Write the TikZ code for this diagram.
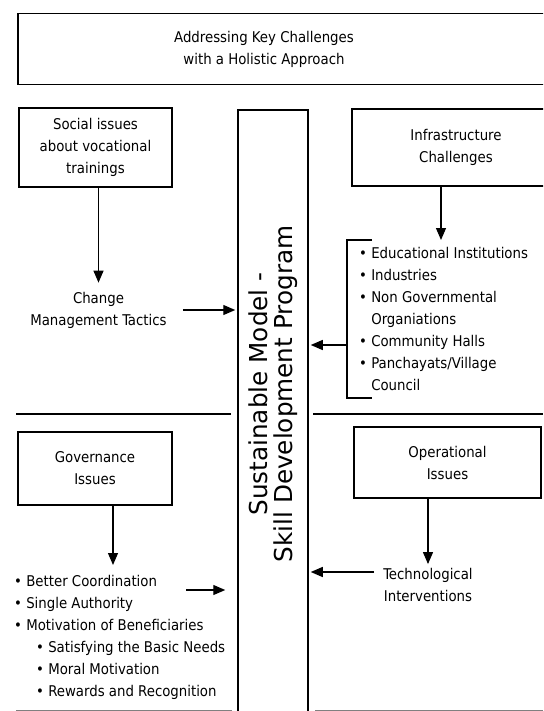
\documentclass[tikz,border=0pt]{standalone}
\usepackage{fontspec}
\setmainfont{DejaVu Sans Condensed}
\newfontfamily\widefont{DejaVu Sans}
\usetikzlibrary{arrows.meta}

\begin{document}
\begin{tikzpicture}[x=1pt,y=-1pt,
		box/.style={draw,line width=1.5pt,inner sep=0pt},
		txt/.style={align=center,inner sep=0pt,font=\fontsize{14.8}{22}\selectfont},
		lst/.style={align=left,inner sep=0pt,anchor=north west,font=\fontsize{14.8}{22}\selectfont},
		arr/.style={line width=1.2pt,-{Triangle[length=12pt,width=10pt]}}]
		\useasboundingbox (0,0) rectangle (543,711);
		\clip (0,0) rectangle (543,711);
		
		% title and the central box
		\node[box,minimum width=560,minimum height=71] (titlebox) at (298,49) {};
		\node[txt] (title) at (264,49) {Addressing Key Challenges\\with a Holistic Approach};
		\node[box,minimum width=70,minimum height=620] (model) at (273,420) {};
		\node[rotate=90,align=center,inner sep=0pt,font=\widefont\fontsize{24.7}{24.5}\selectfont] (modeltext) at (273,394) {Sustainable Model -\\Skill Development Program};
		
		% upper left
		\node[box,txt,minimum width=153,minimum height=79] (social) at (95.5,147.5) {Social issues\\about vocational\\trainings};
		\node[txt] (change) at (98.5,310) {Change\\Management Tactics};
		\draw[arr] (social.south -| change.north) -- (change.north) [shorten >=9pt];
		\draw[arr,shorten >=2pt] ([xshift=16pt]change.east) -- (change.east -| model.west);
		
		% upper right
		\node[box,txt,minimum width=208,minimum height=77] (infra) at (456,147.5) {Infrastructure\\Challenges};
		\node[lst] (infralist) at (359,247) {\textbullet\ Educational Institutions\\
			\textbullet\ Industries\\
			\textbullet\ Non Governmental\\
			\phantom{\textbullet\ }Organiations\\
			\textbullet\ Community Halls\\
			\textbullet\ Panchayats/Village\\
			\phantom{\textbullet\ }Council};
		\coordinate (brtop) at (372,240);
		\coordinate (brbot) at (372,398);
		\coordinate (brmid) at (347,345);
		\draw[line width=1.2pt] (brtop) -- (brtop -| brmid) -- (brbot -| brmid) -- (brbot);
		\draw[arr] ([xshift=-15pt]infra.south) -- ([xshift=-15pt]infra.south |- brtop);
		\draw[arr,shorten >=2pt] (brmid) -- (brmid -| model.east);
		
		% separators
		\draw[line width=1.2pt] (16,414) -- (231,414);
		\draw[line width=1.2pt] (313,414) -- (543,414);
		\draw[line width=0.8pt,gray] (16,710) -- (232,710);
		\draw[line width=0.8pt,gray] (315,710) -- (543,710);
		
		% lower left
		\node[box,txt,minimum width=154,minimum height=73] (gov) at (95,468.5) {Governance\\Issues};
		\node[lst] (govlist) at (14,575) {\textbullet\ Better Coordination\\
			\textbullet\ Single Authority\\
			\textbullet\ Motivation of Beneficiaries\\
			\hspace*{22pt}\textbullet\ Satisfying the Basic Needs\\
			\hspace*{22pt}\textbullet\ Moral Motivation\\
			\hspace*{22pt}\textbullet\ Rewards and Recognition};
		\draw[arr,shorten >=10pt] ([xshift=18pt]gov.south) -- ([xshift=18pt]gov.south |- govlist.north);
		\coordinate (govout) at (186,590);
		\draw[arr,shorten >=12pt] (govout) -- (govout -| model.west);
		
		% lower right
		\node[box,txt,minimum width=187,minimum height=71] (op) at (447.5,462.5) {Operational\\Issues};
		\node[txt] (tech) at (428,585) {Technological\\Interventions};
		\draw[arr,shorten >=4pt] (op.south -| tech.north) -- (tech.north);
		\draw[arr,shorten >=2pt] ([xshift=-9pt,yshift=13pt]tech.west) -- ([yshift=13pt]tech.west -| model.east);
	\end{tikzpicture}
\end{document}
